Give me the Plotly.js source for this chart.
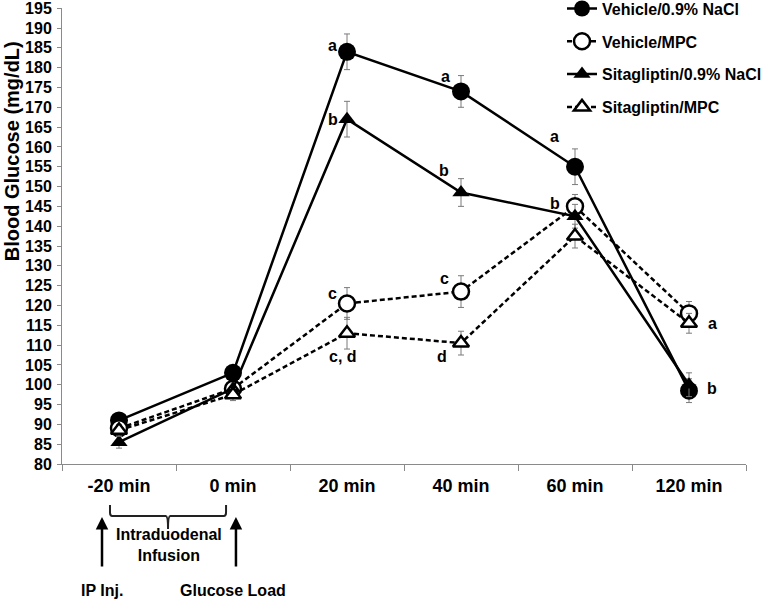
<!DOCTYPE html>
<html>
<head>
<meta charset="utf-8">
<script src="https://cdn.plot.ly/plotly-3.0.1.min.js"></script>
<style>html,body{margin:0;padding:0;background:#fff;}#chart{width:765px;height:600px;}</style>
</head>
<body>
<div id="chart"></div>
<script>
// ---- data ----
var categories = ['-20 min', '0 min', '20 min', '40 min', '60 min', '120 min'];
var seriesNames = ['Vehicle/0.9% NaCl', 'Vehicle/MPC', 'Sitagliptin/0.9% NaCl', 'Sitagliptin/MPC'];
var vehNaCl  = [91, 103, 184, 174, 155, 98.5];
var vehMPC   = [89, 99, 120.5, 123.5, 145, 118];
var sitaNaCl = [85.5, 99, 167, 148.5, 142.5, 100];
var sitaMPC  = [88.5, 97.5, 113, 110.5, 137.5, 115.5];
var vehNaClErr  = [1.5, 1.5, 4.5, 4, 4.5, 3];
var vehMPCErr   = [1.5, 1.5, 4, 4, 3, 3];
var sitaNaClErr = [1.5, 1.5, 4.5, 3.5, 3, 3];
var sitaMPCErr  = [1.5, 1.5, 4, 3, 3, 2.5];
// significance letters: text, category, anchor value
var letterText = ['a', 'b', 'a', 'b', 'a', 'b', 'c', 'c, d', 'c', 'd', 'a', 'b'];
var letterCat  = ['20 min', '20 min', '40 min', '40 min', '60 min', '60 min', '20 min', '20 min', '40 min', '40 min', '120 min', '120 min'];
var letterVal  = [184, 167, 174, 148.5, 155, 145, 120.5, 113, 123.5, 110.5, 115.5, 98.5];

// ---- styles / positions ----
var letterShift = [[-15, 6], [-14, 0], [-16, 15], [-17, 22], [-21, 30], [-20, 3], [-15, 10], [-4, -23], [-17, 13], [-19, -13], [23, 0], [23, 2]];
var FONT = 'Liberation Sans, Arial, sans-serif';
var errStyle = {type: 'data', visible: true, color: '#7a7a7a', thickness: 1, width: 3};
function err(arr) { return Object.assign({array: arr}, errStyle); }

var traces = [
  {x: categories, y: vehNaCl, name: seriesNames[0], error_y: err(vehNaClErr),
   mode: 'lines+markers', line: {color: '#000', width: 2.5},
   marker: {symbol: 'circle', size: 18, color: '#000'}, legendgroup: 'g1'},
  {x: categories, y: vehMPC, name: seriesNames[1], error_y: err(vehMPCErr),
   mode: 'lines+markers', line: {color: '#000', width: 2.5, dash: '5px,3px'},
   marker: {symbol: 'circle', size: 16, color: '#fff', line: {color: '#000', width: 2.5}}, legendgroup: 'g2'},
  {x: categories, y: sitaNaCl, name: seriesNames[2], error_y: err(sitaNaClErr),
   mode: 'lines+markers', line: {color: '#000', width: 2.5},
   marker: {symbol: 'triangle-up', size: 15, color: '#000'}, legendgroup: 'g3'},
  {x: categories, y: sitaMPC, name: seriesNames[3], error_y: err(sitaMPCErr),
   mode: 'lines+markers', line: {color: '#000', width: 2.5, dash: '5px,3px'},
   marker: {symbol: 'triangle-up', size: 14, color: '#fff', line: {color: '#000', width: 2.5}}, legendgroup: 'g4'}
];

var annotations = letterText.map(function (t, i) {
  return {x: letterCat[i], y: letterVal[i], xref: 'x', yref: 'y', text: t, showarrow: false,
          xanchor: 'center', yanchor: 'middle',
          xshift: letterShift[i][0], yshift: letterShift[i][1],
          font: {family: FONT, size: 16, color: '#000', weight: 'bold'}};
});
function note(x, y, text, size) {
  return {xref: 'x', yref: 'paper', x: x, y: y, text: text, showarrow: false, xanchor: 'center', yanchor: 'middle',
          font: {family: FONT, size: size, color: '#000', weight: 'bold'}};
}
// y-axis title (placed high, as in the original)
annotations.push({xref: 'paper', yref: 'paper', x: -0.073, y: 0.686, xanchor: 'center', yanchor: 'middle',
  text: 'Blood Glucose (mg/dL)', textangle: -90, showarrow: false,
  font: {family: FONT, size: 20, color: '#000', weight: 'bold'}});
// protocol annotations below the axis
annotations.push({xref: 'x', yref: 'paper', x: -0.149, y: -0.1162, ax: 0, ay: 51, text: '', showarrow: true,
  arrowhead: 2, arrowsize: 1, arrowwidth: 2.5, arrowcolor: '#000'});
annotations.push({xref: 'x', yref: 'paper', x: 1.026, y: -0.1162, ax: 0, ay: 51, text: '', showarrow: true,
  arrowhead: 2, arrowsize: 1, arrowwidth: 2.5, arrowcolor: '#000'});
annotations.push(note(0.44, -0.1776, 'Intraduodenal<br>Infusion', 16));
annotations.push(note(-0.149, -0.277, 'IP Inj.', 16));
annotations.push(note(1.0, -0.277, 'Glucose Load', 16));

var shapes = [{
  type: 'path', xref: 'x', yref: 'paper',
  path: 'M -0.079,-0.0899 L -0.079,-0.1064 Q -0.079,-0.114 -0.06,-0.114 L 0.41,-0.114 Q 0.43,-0.114 0.43,-0.1425 ' +
        'Q 0.43,-0.114 0.45,-0.114 L 0.92,-0.114 Q 0.939,-0.114 0.939,-0.1064 L 0.939,-0.0899',
  line: {color: '#222', width: 2}
}];

var layout = {
  width: 765, height: 600,
  margin: {l: 62, r: 19, t: 8, b: 136, autoexpand: false},
  paper_bgcolor: '#fff', plot_bgcolor: '#fff',
  font: {family: FONT, color: '#000', weight: 'bold'},
  showlegend: true,
  legend: {x: 0.731, y: 1.036, xanchor: 'left', yanchor: 'top', traceorder: 'grouped', tracegroupgap: 9,
           itemwidth: 30, bgcolor: 'rgba(0,0,0,0)',
           font: {family: FONT, size: 16, color: '#000', weight: 'bold'}},
  xaxis: {type: 'category', range: [-0.5, 5.5], showline: true, linecolor: '#8a8a8a', linewidth: 1,
          ticks: 'outside', tickson: 'boundaries', ticklen: 6, tickcolor: '#8a8a8a', showgrid: false, zeroline: false,
          ticklabelstandoff: 5,
          tickfont: {family: FONT, size: 18, color: '#000', weight: 'bold'}, fixedrange: true},
  yaxis: {range: [80, 195.05], dtick: 5, tick0: 80, showline: true, linecolor: '#8a8a8a', linewidth: 1,
          ticks: 'outside', ticklen: 4, tickcolor: '#8a8a8a', showgrid: false, zeroline: false,
          ticklabelstandoff: 2, ticklabeloverflow: 'allow',
          tickfont: {family: FONT, size: 16, color: '#000', weight: 'bold'}, fixedrange: true},
  annotations: annotations,
  shapes: shapes
};

Plotly.newPlot('chart', traces, layout, {displayModeBar: false, staticPlot: true});
</script>
</body>
</html>
